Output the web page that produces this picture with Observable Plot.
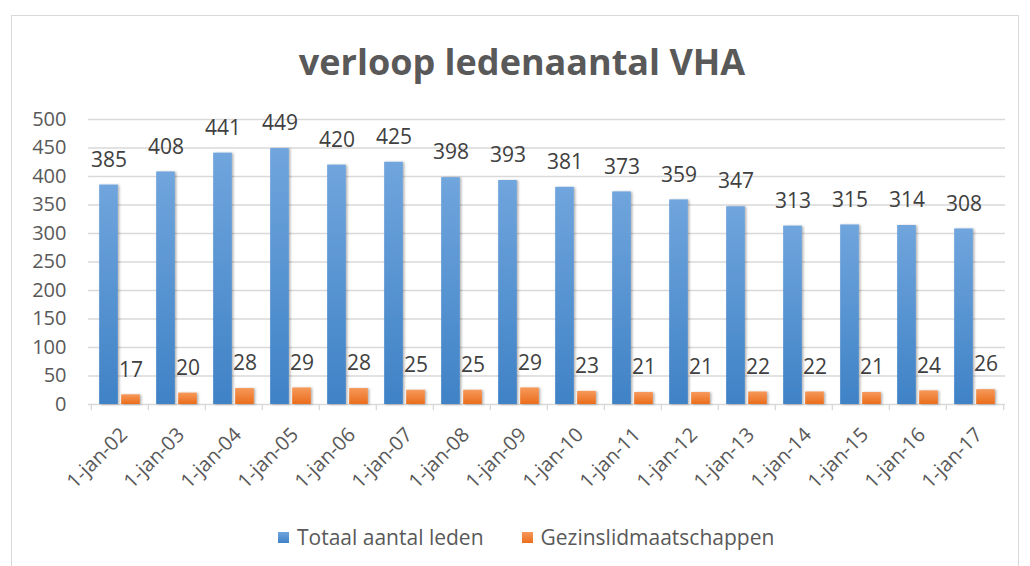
<!DOCTYPE html>
<html>
<head>
<meta charset="utf-8">
<script src="https://cdn.jsdelivr.net/npm/d3@7"></script>
<script src="https://cdn.jsdelivr.net/npm/@observablehq/plot@0.6"></script>
<style>
  html, body { margin: 0; padding: 0; background: #fff; }
  #wrap { position: relative; width: 1030px; height: 566px; overflow: hidden; font-family: "Open Sans", Lato, sans-serif; }
  #frame { position: absolute; left: 11px; top: 15px; width: 1008px; height: 560px; border: 1px solid #d9d9d9; box-sizing: border-box; }
  #title { position: absolute; left: 11px; width: 1022px; top: 37px; text-align: center; font-size: 36px; font-weight: bold; color: #595959; line-height: 50px; }
  #chart { position: absolute; left: 0; top: 90px; }
  #legend { position: absolute; top: 523px; left: 278px; font-size: 21px; color: #595959; display: flex; align-items: center; line-height: 28px; }
  .sw { display: inline-block; width: 11px; height: 11px; margin-right: 8px; }
  .item { display: flex; align-items: center; margin-right: 38px; }
</style>
</head>
<body>
<div id="wrap">
  <div id="frame"></div>
  <div id="title">verloop ledenaantal VHA</div>
  <div id="chart"></div>
  <div id="legend"></div>
</div>
<script>
const dates = ["1-jan-02","1-jan-03","1-jan-04","1-jan-05","1-jan-06","1-jan-07","1-jan-08","1-jan-09","1-jan-10","1-jan-11","1-jan-12","1-jan-13","1-jan-14","1-jan-15","1-jan-16","1-jan-17"];
const totaal = [385,408,441,449,420,425,398,393,381,373,359,347,313,315,314,308];
const gezin = [17,20,28,29,28,25,25,29,23,21,21,22,22,21,24,26];
const yTicks = [0,50,100,150,200,250,300,350,400,450,500];
const seriesNames = ["Totaal aantal leden", "Gezinslidmaatschappen"];
const seriesColors = [["#70a5dd", "#3f82c6"], ["#f6995a", "#eb6d1c"]];

const data = dates.map((d, i) => ({date: d, totaal: totaal[i], gezin: gezin[i]}));

const W = 1030, H = 420, mL = 88, mR = 25, mT = 29, mB = 106;
const bw = (W - mL - mR) / dates.length;
const barW = 19, gap = 3, pad = (bw - 2 * barW - gap) / 2;
const FONT = "'Open Sans', Lato, sans-serif";

const chart = Plot.plot({
  width: W, height: H,
  marginLeft: mL, marginRight: mR, marginTop: mT, marginBottom: mB,
  style: {fontFamily: FONT, fontSize: "20px", color: "#595959", background: "transparent"},
  x: {domain: dates, padding: 0, tickSize: 0, tickPadding: 27, tickRotate: -45, label: null},
  y: {domain: [0, 500], ticks: yTicks, tickSize: 0, tickPadding: 22, label: null},
  marks: [
    Plot.ruleY(yTicks, {stroke: "#d9d9d9", strokeWidth: 1.3}),
    Plot.ruleX(dates, {x: d => d, y1: 0, y2: -11, dx: -bw / 2, stroke: "#d9d9d9", strokeWidth: 1.3}),
    Plot.ruleX([dates[dates.length - 1]], {x: d => d, y1: 0, y2: -11, dx: bw / 2, stroke: "#d9d9d9", strokeWidth: 1.3}),
    Plot.barY(data, {x: "date", y: "totaal", fill: "url(#gBlue)", insetLeft: pad, insetRight: bw - pad - barW}),
    Plot.barY(data, {x: "date", y: "gezin", fill: "url(#gOrange)", insetLeft: pad + barW + gap, insetRight: pad}),
    Plot.text(data, {x: "date", y: "totaal", text: d => String(d.totaal), dx: -(bw / 2 - pad - barW / 2), dy: -25, fill: "#404040", fontSize: 21}),
    Plot.text(data, {x: "date", y: "gezin", text: d => String(d.gezin), dx: (bw / 2 - pad - barW / 2), dy: -25, fill: "#404040", fontSize: 21})
  ]
});

const ns = "http://www.w3.org/2000/svg";
const defs = document.createElementNS(ns, "defs");
defs.innerHTML = `
  <linearGradient id="gBlue" x1="0" y1="0" x2="0" y2="1">
    <stop offset="0" stop-color="${seriesColors[0][0]}"/><stop offset="1" stop-color="${seriesColors[0][1]}"/>
  </linearGradient>
  <linearGradient id="gOrange" x1="0" y1="0" x2="0" y2="1">
    <stop offset="0" stop-color="${seriesColors[1][0]}"/><stop offset="1" stop-color="${seriesColors[1][1]}"/>
  </linearGradient>
  <filter id="shadow" x="-30%" y="-10%" width="160%" height="130%">
    <feDropShadow dx="1.5" dy="0.5" stdDeviation="1.2" flood-color="#000" flood-opacity="0.3"/>
  </filter>`;
chart.insertBefore(defs, chart.firstChild);
chart.querySelectorAll("rect").forEach(r => {
  if ((r.getAttribute("fill") || "").startsWith("url") || (r.parentNode.getAttribute("fill") || "").startsWith("url")) r.setAttribute("filter", "url(#shadow)");
});
const xAxis = chart.querySelector("[aria-label='x-axis']") || chart.querySelector("[aria-label='x-axis tick label']");
if (xAxis) xAxis.setAttribute("transform", "translate(4,0) " + (xAxis.getAttribute("transform") || ""));
document.getElementById("chart").appendChild(chart);

const legend = document.getElementById("legend");
seriesNames.forEach((n, i) => {
  const it = document.createElement("div");
  it.className = "item";
  it.innerHTML = `<span class="sw" style="background:linear-gradient(${seriesColors[i][0]},${seriesColors[i][1]})"></span>${n}`;
  legend.appendChild(it);
});
</script>
</body>
</html>
